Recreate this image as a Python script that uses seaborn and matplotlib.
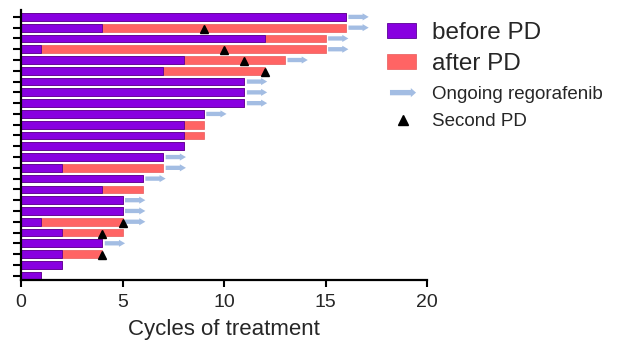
import numpy as np
import pandas as pd
import matplotlib
matplotlib.use('Agg')
import matplotlib.pyplot as plt
import matplotlib.patches as mpatches
from matplotlib.lines import Line2D
from matplotlib.legend_handler import HandlerPatch
import seaborn as sns

# one row per patient, top to bottom
patients = [str(i) for i in range(1, 26)]
before_pd = [16, 4, 12, 1, 8, 7, 11, 11, 11, 9, 8, 8, 8, 7, 2, 6, 4, 5, 5, 1, 2, 4, 2, 2, 1]
total_cycles = [16, 16, 15, 15, 13, 12, 11, 11, 11, 9, 9, 9, 8, 7, 7, 6, 6, 5, 5, 5, 5, 4, 4, 2, 1]
ongoing = [1, 1, 1, 1, 1, 0, 1, 1, 1, 1, 0, 0, 0, 1, 1, 1, 0, 1, 1, 1, 0, 1, 0, 0, 0]
second_pd = [np.nan, 9, np.nan, 10, 11, 12, np.nan, np.nan, np.nan, np.nan, np.nan, np.nan, np.nan,
             np.nan, np.nan, np.nan, np.nan, np.nan, np.nan, 5, 4, np.nan, 4, np.nan, np.nan]

purple = '#8800e0'
salmon = '#ff6464'
arrow_c = '#a3bde3'

df = pd.DataFrame({'patient': patients, 'before': before_pd, 'total': total_cycles})

sns.set_theme(style='ticks')
plt.rcParams['font.family'] = ['Liberation Sans', 'DejaVu Sans']

fig = plt.figure(figsize=(6.2, 3.41), dpi=100)
ax = fig.add_axes([0.034, 0.179, 0.655, 0.792])

sns.barplot(data=df, x='total', y='patient', orient='h', color=salmon, saturation=1,
            width=0.72, edgecolor='#e85a5a', linewidth=0.5, errorbar=None, ax=ax)
sns.barplot(data=df, x='before', y='patient', orient='h', color=purple, saturation=1,
            width=0.72, edgecolor='#5a0096', linewidth=0.6, errorbar=None, ax=ax)

# arrows for patients still on treatment
for i, (end, on) in enumerate(zip(total_cycles, ongoing)):
    if on:
        ax.arrow(end + 0.12, i, 1.0, 0, width=0.4, head_width=0.66, head_length=0.3,
                 length_includes_head=True, color=arrow_c, lw=0)

ax.plot(second_pd, np.arange(len(patients)) + 0.1, linestyle='None', marker='^',
        color='black', markersize=6)

ax.set_xlim(0, 20)
ax.set_ylim(24.4, -0.65)
ax.set_xticks([0, 5, 10, 15, 20])
ax.set_yticklabels([])
ax.set_ylabel('')
ax.set_xlabel('Cycles of treatment', fontsize=16, labelpad=6)
ax.tick_params(axis='x', labelsize=14, width=1.5, length=5, pad=5, color='black')
ax.tick_params(axis='y', width=1.5, length=6, color='black')
for side in ['left', 'bottom']:
    ax.spines[side].set_linewidth(1.6)
    ax.spines[side].set_color('black')
sns.despine(ax=ax)


def make_arrow(legend, orig_handle, xdescent, ydescent, width, height, fontsize):
    return mpatches.FancyArrow(-xdescent, height / 2 - ydescent, width, 0,
                               width=height * 0.5, head_width=height * 0.85,
                               head_length=width * 0.2, length_includes_head=True)


# two legends: the bar entries are set in a larger type than the marker entries
bar_handles = [
    mpatches.Patch(facecolor=purple, edgecolor='#5a0096', linewidth=0.6),
    mpatches.Patch(facecolor=salmon, edgecolor='#e85a5a', linewidth=0.5),
]
leg1 = fig.legend(bar_handles, ['before PD', 'after PD'], loc='upper left',
                  bbox_to_anchor=(0.624, 0.935), frameon=False, fontsize=17.5,
                  handlelength=1.2, handleheight=0.55, handletextpad=0.66,
                  labelspacing=0.36, borderpad=0, borderaxespad=0)

mark_handles = [
    mpatches.FancyArrow(0, 0, 1, 0, color=arrow_c, lw=0),
    Line2D([], [], linestyle='None', marker='^', color='black', markersize=7),
]
leg2 = fig.legend(mark_handles, ['Ongoing regorafenib', 'Second PD'], loc='upper left',
                  bbox_to_anchor=(0.629, 0.747), frameon=False, fontsize=13.5,
                  handlelength=1.39, handleheight=0.5, handletextpad=0.85,
                  labelspacing=0.51, borderpad=0, borderaxespad=0,
                  handler_map={mpatches.FancyArrow: HandlerPatch(patch_func=make_arrow)})

fig.savefig('out.png', dpi=100)
